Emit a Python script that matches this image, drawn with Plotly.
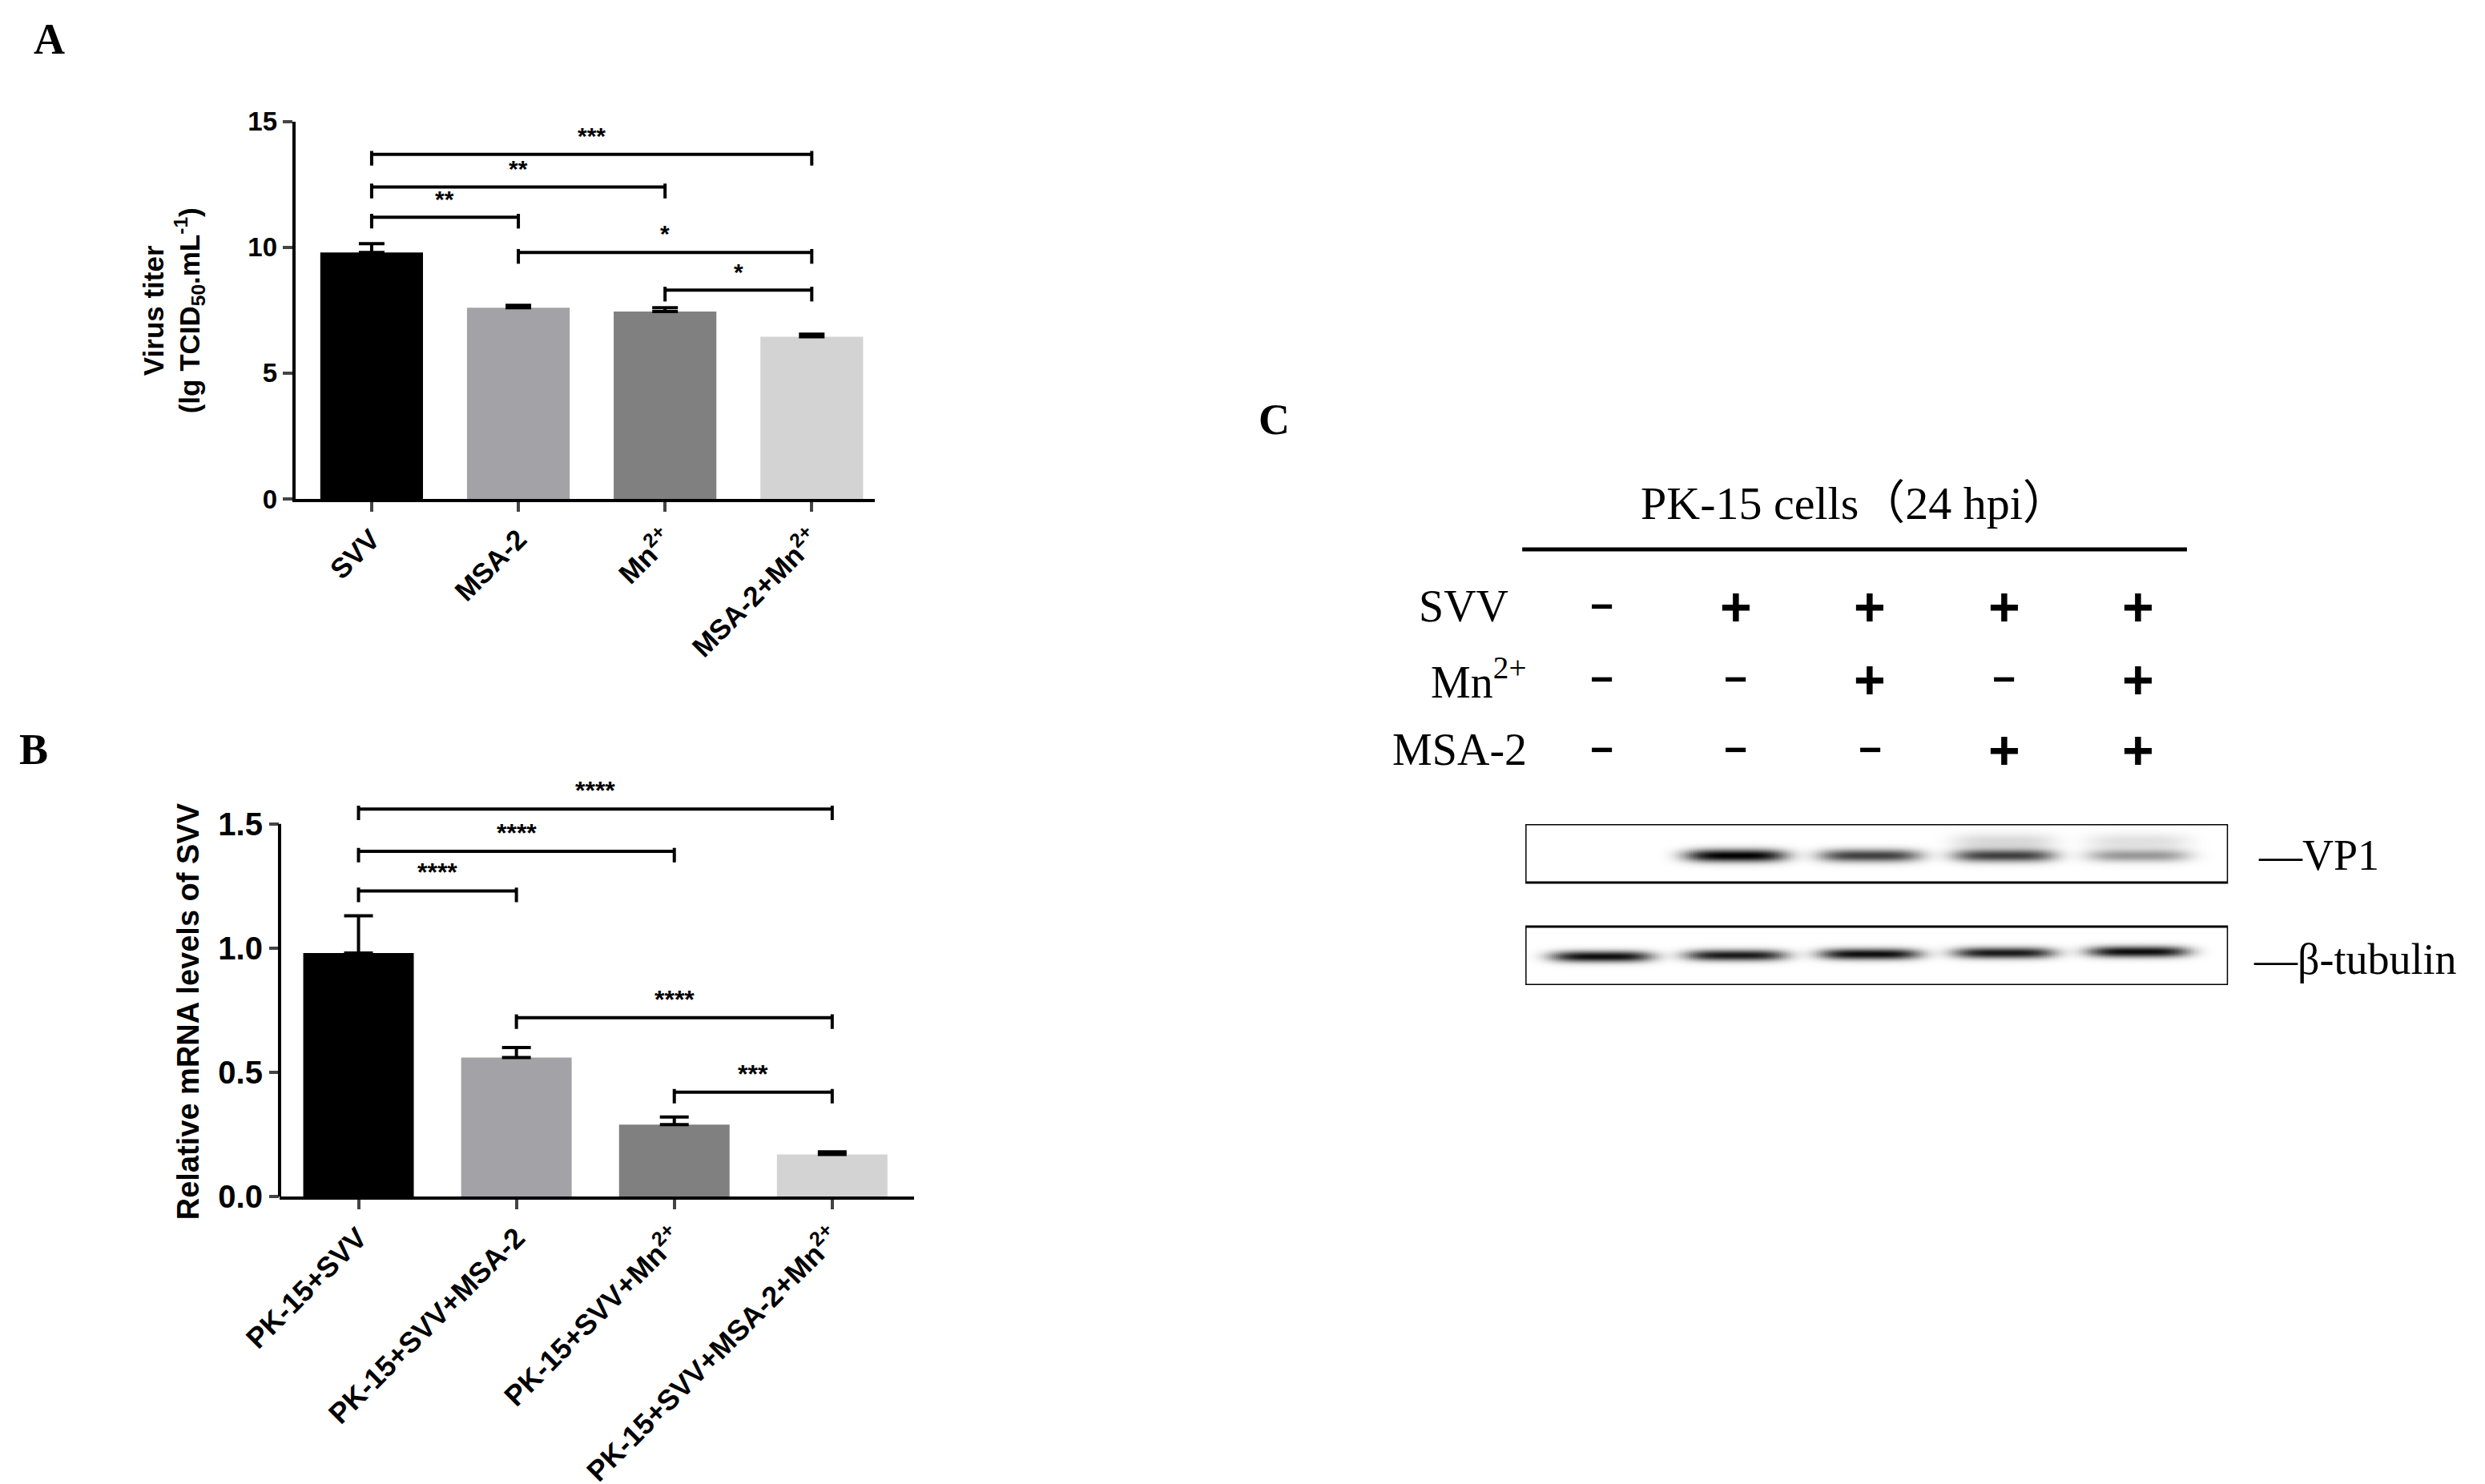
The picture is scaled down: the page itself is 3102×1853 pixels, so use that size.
import numpy as np
import plotly.graph_objects as go

W, H = 3102, 1853
S = 0.9855  # reference pixel scale
# ---- Panel A data
a_cats = ["SVV", "MSA-2", "Mn<sup>2+</sup>", "MSA-2+Mn<sup>2+</sup>"]
a_vals = [9.8, 7.6, 7.45, 6.45]
a_err = [0.35, 0.1, 0.15, 0.1]
a_sig = [(0, 1, 11.2, "**"), (0, 2, 12.4, "**"), (0, 3, 13.7, "***"), (1, 3, 9.8, "*"), (2, 3, 8.3, "*")]
# ---- Panel B data
b_cats = ["PK-15+SVV", "PK-15+SVV+MSA-2", "PK-15+SVV+Mn<sup>2+</sup>", "PK-15+SVV+MSA-2+Mn<sup>2+</sup>"]
b_vals = [0.98, 0.56, 0.29, 0.17]
b_err = [0.15, 0.04, 0.03, 0.01]
b_sig = [(0, 1, 1.23, "****"), (0, 2, 1.39, "****"), (0, 3, 1.56, "****"), (1, 3, 0.72, "****"), (2, 3, 0.42, "***")]
bar_colors = ["#000000", "#a3a2a7", "#808080", "#d3d3d3"]
# ---- Panel C data
c_rows = ["SVV", "Mn<sup>2+</sup>", "MSA-2"]
c_signs = [["-", "+", "+", "+", "+"], ["-", "-", "+", "-", "+"], ["-", "-", "-", "+", "+"]]
vp1_int = [0.0, 1.0, 0.75, 0.75, 0.4]
vp1_smear = [0.0, 0.0, 0.0, 0.15, 0.12]
tub_int = [0.95, 0.9, 0.95, 0.9, 0.95]

def px(x): return x * S / W
def py(y): return 1 - y * S / H

fig = go.Figure()
fig.add_trace(go.Bar(x=list(range(4)), y=a_vals, width=0.7, marker_color=bar_colors, marker_line_width=0,
                     error_y=dict(type="data", array=a_err, arrayminus=[0]*4, symmetric=False, color="black", thickness=4, width=16),
                     xaxis="x", yaxis="y", showlegend=False))
fig.add_trace(go.Bar(x=list(range(4)), y=b_vals, width=0.7, marker_color=bar_colors, marker_line_width=0,
                     error_y=dict(type="data", array=b_err, arrayminus=[0]*4, symmetric=False, color="black", thickness=4, width=18),
                     xaxis="x2", yaxis="y2", showlegend=False))

# blot heatmap
lanes = np.arange(1, 6)
gx = np.arange(0.43, 5.68, 0.01)
gy = np.arange(0, 205, 1.0)
X, Y = np.meshgrid(gx, gy)
Z = np.zeros_like(X)
for i, L in enumerate(lanes):
    prof = np.exp(-((X - L) / 0.38) ** 4)
    Z += vp1_int[i] * prof * np.exp(-((Y - 40) / 8) ** 2)
    Z += vp1_smear[i] * prof * np.exp(-((Y - 22) / 10) ** 2)
    Z += tub_int[i] * prof * np.exp(-((Y - 168 + (i * 1.5)) / 7) ** 2)
Z[(Y > 74) & (Y < 130)] = 0
Z = np.clip(Z, 0, 1)
fig.add_trace(go.Heatmap(x=gx, y=gy, z=Z, colorscale=[[0, "white"], [1, "black"]], zmin=0, zmax=1,
                         showscale=False, xaxis="x3", yaxis="y3", hoverinfo="skip"))

axfont = dict(family="Liberation Sans", color="black")
fig.update_layout(
    width=W, height=H, margin=dict(l=0, r=0, t=0, b=0, autoexpand=False), paper_bgcolor="white", plot_bgcolor="white",
    xaxis=dict(domain=[px(366), px(1100)], range=[-0.52, 3.43], tickvals=list(range(4)), ticktext=[f"<b>{c}</b>" for c in a_cats],
               tickangle=-45, showline=True, linewidth=4, linecolor="black", ticks="outside", ticklen=12, tickwidth=4,
               tickfont=dict(size=35, **axfont), showgrid=False, zeroline=False, anchor="y", automargin=False),
    yaxis=dict(domain=[py(624), py(146)], range=[0, 15], tickvals=[0, 5, 10, 15], ticktext=["<b>0</b>", "<b>5</b>", "<b>10</b>", "<b>15</b>"],
               showline=True, linewidth=4, linecolor="black", ticks="outside", ticklen=12, tickwidth=4,
               tickfont=dict(size=33, **axfont), showgrid=False, zeroline=False, anchor="x", automargin=False),
    xaxis2=dict(domain=[px(346), px(1150)], range=[-0.5, 3.52], tickvals=list(range(4)), ticktext=[f"<b>{c}</b>" for c in b_cats],
                tickangle=-45, showline=True, linewidth=4, linecolor="black", ticks="outside", ticklen=12, tickwidth=4,
                tickfont=dict(size=36, **axfont), showgrid=False, zeroline=False, anchor="y2", automargin=False),
    yaxis2=dict(domain=[py(1508), py(998)], range=[0, 1.62], tickvals=[0, 0.5, 1, 1.5], ticktext=["<b>0.0</b>", "<b>0.5</b>", "<b>1.0</b>", "<b>1.5</b>"],
                showline=False, ticks="outside", ticklen=12, tickwidth=4,
                tickfont=dict(size=40, **axfont), showgrid=False, zeroline=False, anchor="x2", automargin=False),
    xaxis3=dict(domain=[px(1924), px(2814)], range=[0.43, 5.67], visible=False, anchor="y3"),
    yaxis3=dict(domain=[py(1240), py(1036)], range=[204, 0], visible=False, anchor="x3"),
)

shapes, anns = [], []
shapes.append(dict(type="line", xref="x2 domain", yref="y2", x0=0, x1=0, y0=0, y1=1.5, line=dict(color="black", width=4)))

def brackets(sig, xr, yr, tick, size, off):
    for i, j, yv, lab in sig:
        shapes.append(dict(type="line", xref=xr, yref=yr, x0=i, x1=j, y0=yv, y1=yv, line=dict(color="black", width=4)))
        for e in (i, j):
            shapes.append(dict(type="line", xref=xr, yref=yr, x0=e, x1=e, y0=yv - tick, y1=yv + tick * 0.3, line=dict(color="black", width=4)))
        anns.append(dict(x=(i + j) / 2, y=yv + off, xref=xr, yref=yr, text=f"<b>{lab}</b>", showarrow=False,
                         xanchor="center", yanchor="bottom", font=dict(size=size, **axfont)))

brackets(a_sig, "x", "y", 0.45, 30, 0.15)
brackets(b_sig, "x2", "y2", 0.045, 32, 0.01)

anns.append(dict(x=px(212), y=py(385), xref="paper", yref="paper", textangle=-90, showarrow=False, xanchor="center", yanchor="middle",
                 text="<b>Virus titer</b><br><b>(lg TCID<sub>50</sub>.mL<sup>-1</sup>)</b>", font=dict(size=35, **axfont)))
anns.append(dict(x=px(230), y=py(1273), xref="paper", yref="paper", textangle=-90, showarrow=False, xanchor="center", yanchor="middle",
                 text="<b>Relative mRNA levels of SVV</b>", font=dict(size=38, **axfont)))

tfont = dict(family="Liberation Serif", color="black")
for lab, x, y in [("A", 54, 42), ("B", 34, 942), ("C", 1606, 524)]:
    anns.append(dict(x=px(x), y=py(y), xref="paper", yref="paper", text=f"<b>{lab}</b>", showarrow=False,
                     xanchor="center", yanchor="middle", font=dict(size=54, **tfont)))

anns.append(dict(x=px(2068), y=py(630), xref="paper", yref="paper", text="PK-15 cells（24 hpi）", showarrow=False,
                 xanchor="left", yanchor="middle",
                 font=dict(size=58, family="Liberation Serif, Noto Sans CJK SC", color="black")))
shapes.append(dict(type="line", xref="paper", yref="paper", x0=px(1920), x1=px(2762), y0=py(688), y1=py(688),
                   line=dict(color="black", width=5)))
row_y = [760, 852, 942]
for r, lab in enumerate(c_rows):
    anns.append(dict(x=px(1905 if r == 0 else 1928), y=py(row_y[r]), xref="paper", yref="paper", text=lab, showarrow=False,
                     xanchor="right", yanchor="middle", font=dict(size=56, **tfont)))
    for k, s in enumerate(c_signs[r]):
        anns.append(dict(x=lanes[k], y=py(row_y[r]), xref="x3", yref="paper", text=f"<b>{'+' if s == '+' else '−'}</b>",
                         showarrow=False, xanchor="center", yanchor="middle",
                         font=dict(size=68 if s == "+" else 50, family="Liberation Sans", color="black")))

for y0, y1 in [(0, 74), (130, 204)]:
    shapes.append(dict(type="rect", xref="x3", yref="y3", x0=0.43 + 0.02, x1=5.67 + 0.02, y0=y0 + 3, y1=y1 + 3,
                       line=dict(color="#bbbbbb", width=4), layer="below"))
    shapes.append(dict(type="rect", xref="x3", yref="y3", x0=0.43, x1=5.67, y0=y0, y1=y1,
                       line=dict(color="black", width=3)))
anns.append(dict(x=px(2850), y=py(1076), xref="paper", yref="paper", text="—VP1", showarrow=False, xanchor="left", yanchor="middle",
                 font=dict(size=54, **tfont)))
anns.append(dict(x=px(2844), y=py(1208), xref="paper", yref="paper", text="—β-tubulin", showarrow=False, xanchor="left", yanchor="middle",
                 font=dict(size=54, **tfont)))

fig.update_layout(shapes=shapes, annotations=anns)
fig.write_html("out.html")
